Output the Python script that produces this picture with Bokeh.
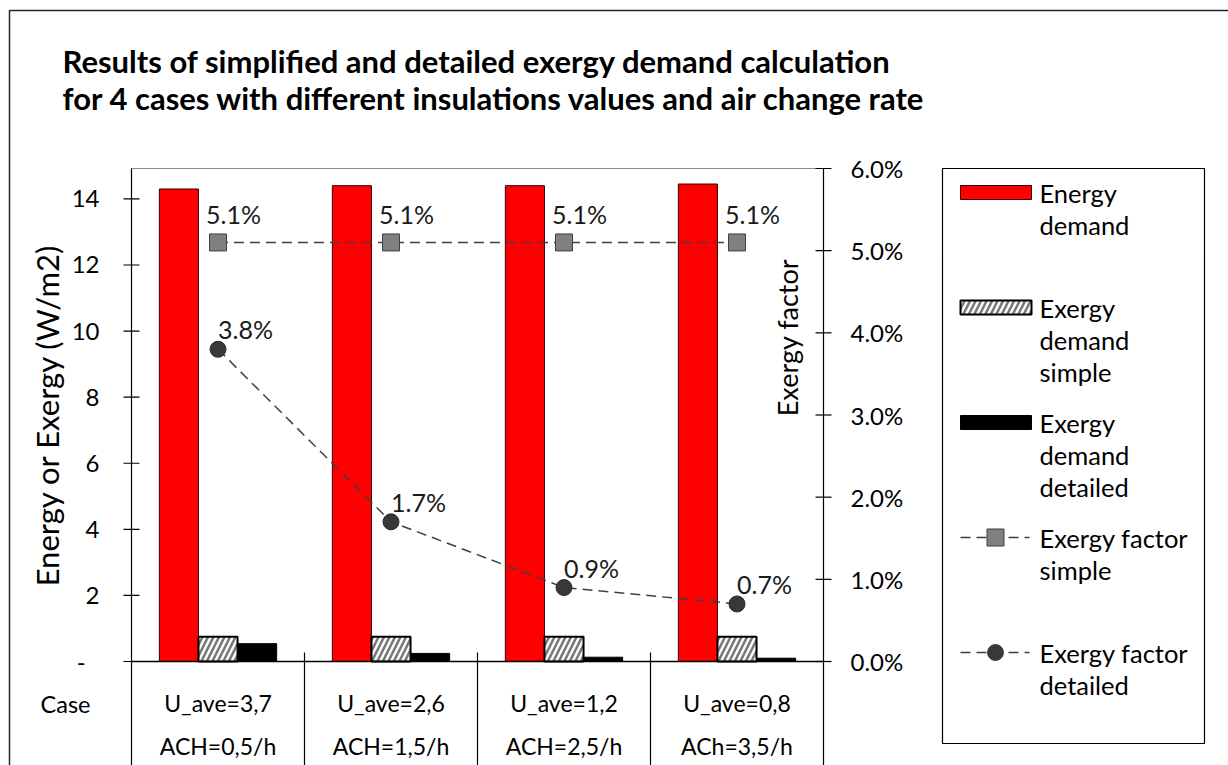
import numpy as np
from bokeh.plotting import figure
from bokeh.models import Range1d
from bokeh.core.properties import value
from bokeh.embed import file_html
from bokeh.resources import INLINE

# ---------------- data ----------------
title_lines = [
    "Results of simplified and detailed exergy demand calculation",
    "for 4 cases with different insulations values and air change rate",
]
row_header = "Case"
case_u = ["U_ave=3,7", "U_ave=2,6", "U_ave=1,2", "U_ave=0,8"]
case_ach = ["ACH=0,5/h", "ACH=1,5/h", "ACH=2,5/h", "ACh=3,5/h"]

energy_demand = [14.3, 14.4, 14.4, 14.45]            # W/m2
exergy_demand_simple = [0.75, 0.75, 0.75, 0.75]      # W/m2
exergy_demand_detailed = [0.54, 0.245, 0.13, 0.10]   # W/m2
exergy_factor_simple = [0.051, 0.051, 0.051, 0.051]
exergy_factor_detailed = [0.038, 0.017, 0.009, 0.007]

energy_ticks = [0, 2, 4, 6, 8, 10, 12, 14]
factor_ticks = [0.0, 0.01, 0.02, 0.03, 0.04, 0.05, 0.06]
energy_axis_title = "Energy or Exergy (W/m2)"
factor_axis_title = "Exergy factor"

legend_texts = [
    ["Energy", "demand"],
    ["Exergy", "demand", "simple"],
    ["Exergy", "demand", "detailed"],
    ["Exergy factor", "simple"],
    ["Exergy factor", "detailed"],
]

# ---------------- layout (pixels, measured from the top-left corner) ----------------
W, H = 1228, 765
FONT = value("Lato")
PLOT_L, PLOT_R, PLOT_T, ZERO_Y = 131, 823, 168, 661
ENERGY_TOP, FACTOR_TOP = 14.92, 0.06
TICK = 8
BAR_W = 0.226

RED = "#ff0000"
DARK = "#404040"
HATCH = dict(hatch_pattern="/", hatch_color="#7a7a7a", hatch_scale=11, hatch_weight=2.6)

n = len(case_u)
cat_w = (PLOT_R - PLOT_L) / n
ppu = (ZERO_Y - PLOT_T) / ENERGY_TOP   # pixels per W/m2
ppf = (ZERO_Y - PLOT_T) / FACTOR_TOP   # pixels per unit of exergy factor


def py(y):
    """pixel row counted from the top -> canvas y coordinate"""
    return H - y


p = figure(
    width=W, height=H,
    x_range=Range1d(0, W), y_range=Range1d(0, H),
    min_border=0, toolbar_location=None, output_backend="svg",
    x_axis_location=None, y_axis_location=None,
    background_fill_color="white", border_fill_color="white",
    outline_line_color=None,
)
p.grid.visible = False

# data scales: cases along x, energy on the left scale, exergy factor on the right scale
p.extra_x_ranges = {
    "case": Range1d(0.5 - PLOT_L / cat_w, 0.5 + (W - PLOT_L) / cat_w),
}
p.extra_y_ranges = {
    "energy": Range1d((ZERO_Y - H) / ppu, ZERO_Y / ppu),
    "factor": Range1d((ZERO_Y - H) / ppf, ZERO_Y / ppf),
}

case_x = np.arange(1, n + 1)

# ---------------- frame ----------------
p.line(x=[9, 9, W + 5], y=[py(H + 5), py(10), py(10)], line_color="#262626", line_width=1.5)
p.segment(x0=PLOT_L, y0=py(PLOT_T), x1=PLOT_R, y1=py(PLOT_T), line_color="#8c8c8c", line_width=1)

# ---------------- bars ----------------
p.vbar(x=case_x - BAR_W, top=energy_demand, bottom=0, width=BAR_W,
       x_range_name="case", y_range_name="energy",
       fill_color=RED, line_color="#3a0000", line_width=1)
p.vbar(x=case_x, top=exergy_demand_simple, bottom=0, width=BAR_W,
       x_range_name="case", y_range_name="energy",
       fill_color="white", line_color="black", line_width=2, **HATCH)
p.vbar(x=case_x + BAR_W, top=exergy_demand_detailed, bottom=0, width=BAR_W,
       x_range_name="case", y_range_name="energy",
       fill_color="black", line_color="black", line_width=1)

# ---------------- axes ----------------
# value axis lines run down through the case table
p.segment(x0=[PLOT_L, PLOT_R], y0=[py(PLOT_T)] * 2, x1=[PLOT_L, PLOT_R], y1=[0, 0],
          line_color="black", line_width=1.2)
# category axis at zero
p.segment(x0=0.5, y0=0, x1=n + 0.5, y1=0, x_range_name="case", y_range_name="energy",
          line_color="black", line_width=1.5)
# category dividers, continuing as the table's cell borders
bounds = np.arange(1.5, n, 1.0)
p.segment(x0=bounds, y0=py(ZERO_Y - TICK - 1), x1=bounds, y1=0, x_range_name="case",
          line_color="black", line_width=1.2)

# left ticks + labels
p.segment(x0=PLOT_L - TICK, y0=energy_ticks, x1=PLOT_L + TICK, y1=energy_ticks,
          y_range_name="energy", line_color="black", line_width=1.2)
energy_tick_labels = ["-\u2007" if t == 0 else f"{t:g}" for t in energy_ticks]
p.text(x=PLOT_L - TICK - 24, y=energy_ticks, text=energy_tick_labels, y_range_name="energy",
       text_font=FONT, text_font_size="24px", text_color="black",
       text_align="right", text_baseline="middle")

# right ticks + labels
p.segment(x0=PLOT_R - TICK, y0=factor_ticks, x1=PLOT_R + TICK, y1=factor_ticks,
          y_range_name="factor", line_color="black", line_width=1.2)
factor_tick_labels = [f"{t:.1%}" for t in factor_ticks]
p.text(x=PLOT_R + 27, y=factor_ticks, text=factor_tick_labels, y_range_name="factor",
       text_font=FONT, text_font_size="24px", text_color="black",
       text_align="left", text_baseline="middle")

# axis titles
p.text(x=[46], y=[py((PLOT_T + ZERO_Y) / 2)], text=[energy_axis_title], angle=np.pi / 2,
       text_font=FONT, text_font_size="31px", text_color="black",
       text_align="center", text_baseline="middle")
p.text(x=[787], y=[py(337)], text=[factor_axis_title], angle=np.pi / 2,
       text_font=FONT, text_font_size="27px", text_color="black",
       text_align="center", text_baseline="middle")

# ---------------- exergy factor lines ----------------
p.line(x=case_x, y=exergy_factor_simple, x_range_name="case", y_range_name="factor",
       line_color=DARK, line_width=1.5, line_dash="10 6")
p.scatter(x=case_x, y=exergy_factor_simple, x_range_name="case", y_range_name="factor",
          marker="square", size=17, fill_color="#808080", line_color=DARK, line_width=1)
p.line(x=case_x, y=exergy_factor_detailed, x_range_name="case", y_range_name="factor",
       line_color=DARK, line_width=1.5, line_dash="10 6")
p.scatter(x=case_x, y=exergy_factor_detailed, x_range_name="case", y_range_name="factor",
          marker="circle", size=16, fill_color="#383838", line_color="#2a2a2a", line_width=1)

# value labels
p.text(x=case_x - 12 / cat_w, y=np.array(exergy_factor_simple) + 28 / ppf,
       text=[f"{v:.1%}" for v in exergy_factor_simple],
       x_range_name="case", y_range_name="factor",
       text_font=FONT, text_font_size="25px", text_color="#1a1a1a",
       text_align="left", text_baseline="middle")
p.text(x=case_x + 0 / cat_w, y=np.array(exergy_factor_detailed) + 20 / ppf,
       text=[f"{v:.1%}" for v in exergy_factor_detailed],
       x_range_name="case", y_range_name="factor",
       text_font=FONT, text_font_size="25px", text_color="#1a1a1a",
       text_align="left", text_baseline="middle")

# ---------------- case table ----------------
p.text(x=[65], y=[py(703)], text=[row_header], text_font=FONT, text_font_size="23.5px",
       text_color="black", text_align="center", text_baseline="middle")
p.text(x=case_x, y=py(702), text=case_u, x_range_name="case",
       text_font=FONT, text_font_size="23px", text_color="black",
       text_align="center", text_baseline="middle")
p.text(x=case_x, y=py(745), text=case_ach, x_range_name="case",
       text_font=FONT, text_font_size="23px", text_color="black",
       text_align="center", text_baseline="middle")

# ---------------- legend ----------------
LEG_L, LEG_R, LEG_T, LEG_B = 942, 1204, 168, 743
LEG_Y0, LEG_STEP, LINE_H = 192, 115, 32
SW_L, SW_R, SW_H = 960, 1031, 14
TXT_X = 1039

p.quad(left=LEG_L, right=LEG_R, top=py(LEG_T), bottom=py(LEG_B),
       fill_color="white", line_color="black", line_width=1.2)

ly = [LEG_Y0 + k * LEG_STEP for k in range(len(legend_texts))]
p.quad(left=SW_L, right=SW_R, top=py(ly[0] - SW_H / 2), bottom=py(ly[0] + SW_H / 2),
       fill_color=RED, line_color="#3a0000", line_width=1)
p.quad(left=SW_L, right=SW_R, top=py(ly[1] - SW_H / 2), bottom=py(ly[1] + SW_H / 2),
       fill_color="white", line_color="black", line_width=2, **HATCH)
p.quad(left=SW_L, right=SW_R, top=py(ly[2] - SW_H / 2), bottom=py(ly[2] + SW_H / 2),
       fill_color="black", line_color="black", line_width=1)
mid = (SW_L + SW_R) / 2 - 0.5
for k, marker, fc, sz in [(3, "square", "#808080", 17), (4, "circle", "#383838", 16)]:
    p.segment(x0=SW_L, y0=py(ly[k]), x1=SW_R - 2, y1=py(ly[k]),
              line_color=DARK, line_width=1.5, line_dash="10 6")
    p.scatter(x=[mid], y=[py(ly[k])], marker=marker, size=sz,
              fill_color=fc, line_color=DARK, line_width=1)

for k, lines in enumerate(legend_texts):
    p.text(x=TXT_X, y=[py(ly[k] + j * LINE_H) for j in range(len(lines))], text=lines,
           text_font=FONT, text_font_size="25.5px", text_color="black",
           text_align="left", text_baseline="middle")

# ---------------- title ----------------
p.text(x=62, y=[py(60), py(97)], text=title_lines,
       text_font=FONT, text_font_size="31px", text_font_style="bold", text_color="black",
       text_align="left", text_baseline="middle")

open("out.html", "w").write(file_html(p, INLINE))
